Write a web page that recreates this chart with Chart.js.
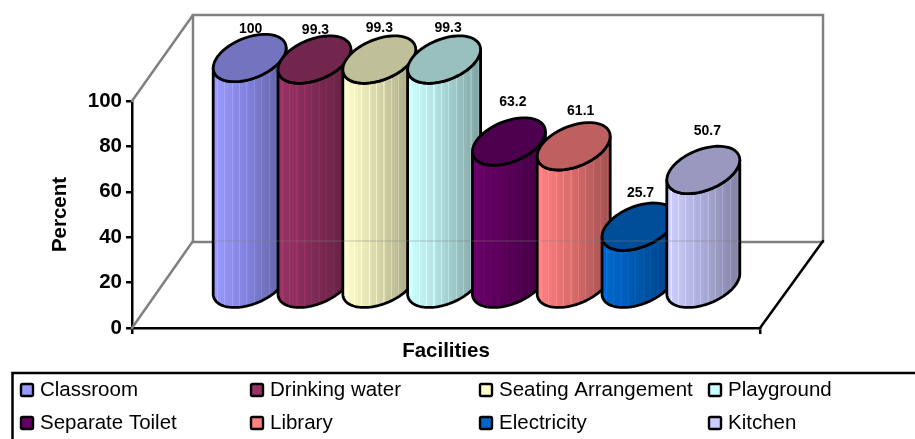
<!DOCTYPE html>
<html>
<head>
<meta charset="utf-8">
<title>Facilities</title>
<script src="https://cdn.jsdelivr.net/npm/chart.js@4"></script>
<style>
html, body { margin: 0; padding: 0; background: #fff; overflow: hidden; }
#wrap { position: relative; width: 915px; height: 439px; }
</style>
</head>
<body>
<div id="wrap"><canvas id="chart" width="915" height="439"></canvas></div>
<script>
const facilities = ['Classroom', 'Drinking water', 'Seating Arrangement', 'Playground',
    'Separate Toilet', 'Library', 'Electricity', 'Kitchen'];
const percent = [100, 99.3, 99.3, 99.3, 63.2, 61.1, 25.7, 50.7];
const base_colors = ['#9999FF', '#993366', '#FFFFCC', '#CCFFFF', '#660066', '#FF8080', '#0066CC', '#CCCCFF'];
const value_ticks = [0, 20, 40, 60, 80, 100];

// shift of each value label from its cap top, Excel leaves them uneven
const label_nudge = [[1, -5], [1, -5], [0, -7], [4, -7], [4, -15], [7, -11], [2, -10], [4, -15]];

const FONT = '"Liberation Sans", Arial, sans-serif';
const DEPTH_X = 61;   // floor depth on screen
const DEPTH_Y = 87;
const RX = 36.5;      // cylinder half width
const SKEW = 10;      // how far the cap tilts
const RY = 21.5;

function shade(hex, f) {
    const n = parseInt(hex.slice(1), 16);
    const ch = [n >> 16, (n >> 8) & 255, n & 255].map(function (v) {
        return Math.min(255, Math.round(v * f));
    });
    return 'rgb(' + ch.join(',') + ')';
}

// point on the tilted cap outline
function capPoint(cx, cy, t) {
    return [cx + RX * Math.cos(t), cy - SKEW * Math.cos(t) + RY * Math.sin(t)];
}

function traceArc(ctx, cx, cy, from, to) {
    const steps = 48;
    for (let i = 0; i <= steps; i++) {
        const p = capPoint(cx, cy, from + (to - from) * i / steps);
        ctx.lineTo(p[0], p[1]);
    }
}

// vertical bands, bright on the left and dark on the right, with thin light lines
function bodyFill(ctx, cx, color) {
    const left = cx - RX;
    const w = RX * 2;
    const g = ctx.createLinearGradient(left, 0, left + w, 0);
    const band = 3.7;
    let n = 0;
    for (let x = 0; x < w; x += band) {
        const f = 1 - 0.38 * Math.pow(x / w, 1.1);
        const lit = n % 2 === 1 ? 1.13 : 1;
        g.addColorStop(x / w, shade(color, f * lit));
        g.addColorStop(Math.min(1, (x + 1) / w), shade(color, f * lit));
        g.addColorStop(Math.min(1, (x + 1.01) / w), shade(color, f));
        g.addColorStop(Math.min(1, (x + band - 0.01) / w), shade(color, f));
        n++;
    }
    return g;
}

function drawCylinder(ctx, cx, topY, bottomY, color) {
    ctx.beginPath();
    const start = capPoint(cx, topY, Math.PI);
    ctx.moveTo(start[0], start[1]);
    traceArc(ctx, cx, bottomY, Math.PI, 0);
    traceArc(ctx, cx, topY, 0, Math.PI);
    ctx.closePath();
    ctx.fillStyle = bodyFill(ctx, cx, color);
    ctx.fill();
    ctx.lineWidth = 2.8;
    ctx.strokeStyle = '#000';
    ctx.lineJoin = 'round';
    ctx.stroke();

    ctx.beginPath();
    traceArc(ctx, cx, topY, 0, Math.PI * 2);
    ctx.closePath();
    ctx.fillStyle = shade(color, 0.75);
    ctx.fill();
    ctx.stroke();
}

function line(ctx, x1, y1, x2, y2) {
    ctx.beginPath();
    ctx.moveTo(x1, y1);
    ctx.lineTo(x2, y2);
    ctx.stroke();
}

const wall_plugin = {
    id: 'wall',
    beforeDatasetsDraw: function (chart) {
        const ctx = chart.ctx;
        const a = chart.chartArea;
        ctx.save();
        ctx.strokeStyle = '#808080';
        ctx.lineWidth = 2.5;
        ctx.lineCap = 'round';
        ctx.strokeRect(a.left + DEPTH_X, a.top - DEPTH_Y + 1, a.right - a.left + 2, a.bottom - a.top);
        line(ctx, a.left, a.bottom, a.left + DEPTH_X, a.bottom - DEPTH_Y);
        line(ctx, a.left, a.top, a.left + DEPTH_X, a.top - DEPTH_Y + 1);
        ctx.strokeStyle = '#000';
        ctx.lineWidth = 2.5;
        line(ctx, a.right, a.bottom, a.right + DEPTH_X + 2, a.bottom - DEPTH_Y);
        ctx.restore();
    }
};

// the cylinders replace the flat bars, positions come from the bar elements
const cylinder_plugin = {
    id: 'cylinders',
    beforeDatasetDraw: function () {
        return false;
    },
    afterDatasetsDraw: function (chart) {
        const ctx = chart.ctx;
        const a = chart.chartArea;
        ctx.save();
        chart.data.datasets.forEach(function (ds, i) {
            const bar = chart.getDatasetMeta(i).data[0];
            drawCylinder(ctx, bar.x + DEPTH_X / 2, bar.y - DEPTH_Y / 2 + 0.5, bar.base - DEPTH_Y / 2 + 0.5, ds.backgroundColor);
        });
        // back wall shows faintly through the bodies
        ctx.strokeStyle = 'rgba(128,128,128,0.22)';
        ctx.lineWidth = 2;
        line(ctx, a.left + 82, a.bottom - DEPTH_Y, a.left + 608, a.bottom - DEPTH_Y);

        ctx.fillStyle = '#000';
        ctx.font = 'bold 14px ' + FONT;
        ctx.textAlign = 'center';
        ctx.textBaseline = 'middle';
        chart.data.datasets.forEach(function (ds, i) {
            const bar = chart.getDatasetMeta(i).data[0];
            const capTop = bar.y - DEPTH_Y / 2 - 23.5;
            ctx.fillText(String(ds.data[0]), bar.x + DEPTH_X / 2 + label_nudge[i][0], capTop + label_nudge[i][1]);
        });
        ctx.restore();
    }
};

const legend_plugin = {
    id: 'boxLegend',
    afterDraw: function (chart) {
        const ctx = chart.ctx;
        const cols = [20, 250, 479, 708];
        const rows = [383, 416];
        ctx.save();
        ctx.strokeStyle = '#000';
        ctx.lineWidth = 2.5;
        ctx.strokeRect(12.5, 373, 915, 80);
        ctx.font = '20.5px ' + FONT;
        ctx.textBaseline = 'middle';
        ctx.textAlign = 'left';
        chart.data.datasets.forEach(function (ds, i) {
            const x = cols[i % 4];
            const y = rows[Math.floor(i / 4)];
            ctx.fillStyle = ds.backgroundColor;
            ctx.lineWidth = 2.4;
            ctx.beginPath();
            ctx.roundRect(x + 1, y + 1, 12, 12, 1.5);
            ctx.fill();
            ctx.stroke();
            ctx.fillStyle = '#000';
            ctx.fillText(ds.label, x + 20, y + 7.5);
        });
        ctx.restore();
    }
};

new Chart(document.getElementById('chart'), {
    type: 'bar',
    data: {
        labels: [''],
        datasets: facilities.map(function (name, i) {
            return { label: name, data: [percent[i]], backgroundColor: base_colors[i] };
        })
    },
    plugins: [wall_plugin, cylinder_plugin, legend_plugin],
    options: {
        responsive: false,
        animation: false,
        devicePixelRatio: 1,
        categoryPercentage: 0.8255,
        barPercentage: 1,
        layout: { padding: { left: 48, right: 155, top: 101, bottom: 75 } },
        plugins: {
            legend: { display: false },
            tooltip: { enabled: false }
        },
        scales: {
            x: {
                afterFit: function (scale) { scale.height = 36; },
                border: { color: '#000', width: 2.5 },
                grid: { offset: true, drawOnChartArea: false, tickColor: '#000', tickLength: 6, lineWidth: 2.5 },
                ticks: { display: false },
                title: { display: true, text: 'Facilities', color: '#000', padding: 0,
                    font: { family: FONT, size: 20.5, weight: 'bold' } }
            },
            y: {
                min: 0,
                max: 100,
                afterFit: function (scale) { scale.width = 84; },
                afterBuildTicks: function (scale) {
                    scale.ticks = value_ticks.map(function (v) { return { value: v }; });
                },
                border: { color: '#000', width: 2.5 },
                grid: { drawOnChartArea: false, tickColor: '#000', tickLength: 6, lineWidth: 2.5 },
                ticks: { color: '#000', padding: 4, font: { family: FONT, size: 20.5, weight: 'bold' } },
                title: { display: true, text: 'Percent', color: '#000', padding: 0,
                    font: { family: FONT, size: 20.5, weight: 'bold' } }
            }
        }
    }
});
</script>
</body>
</html>
